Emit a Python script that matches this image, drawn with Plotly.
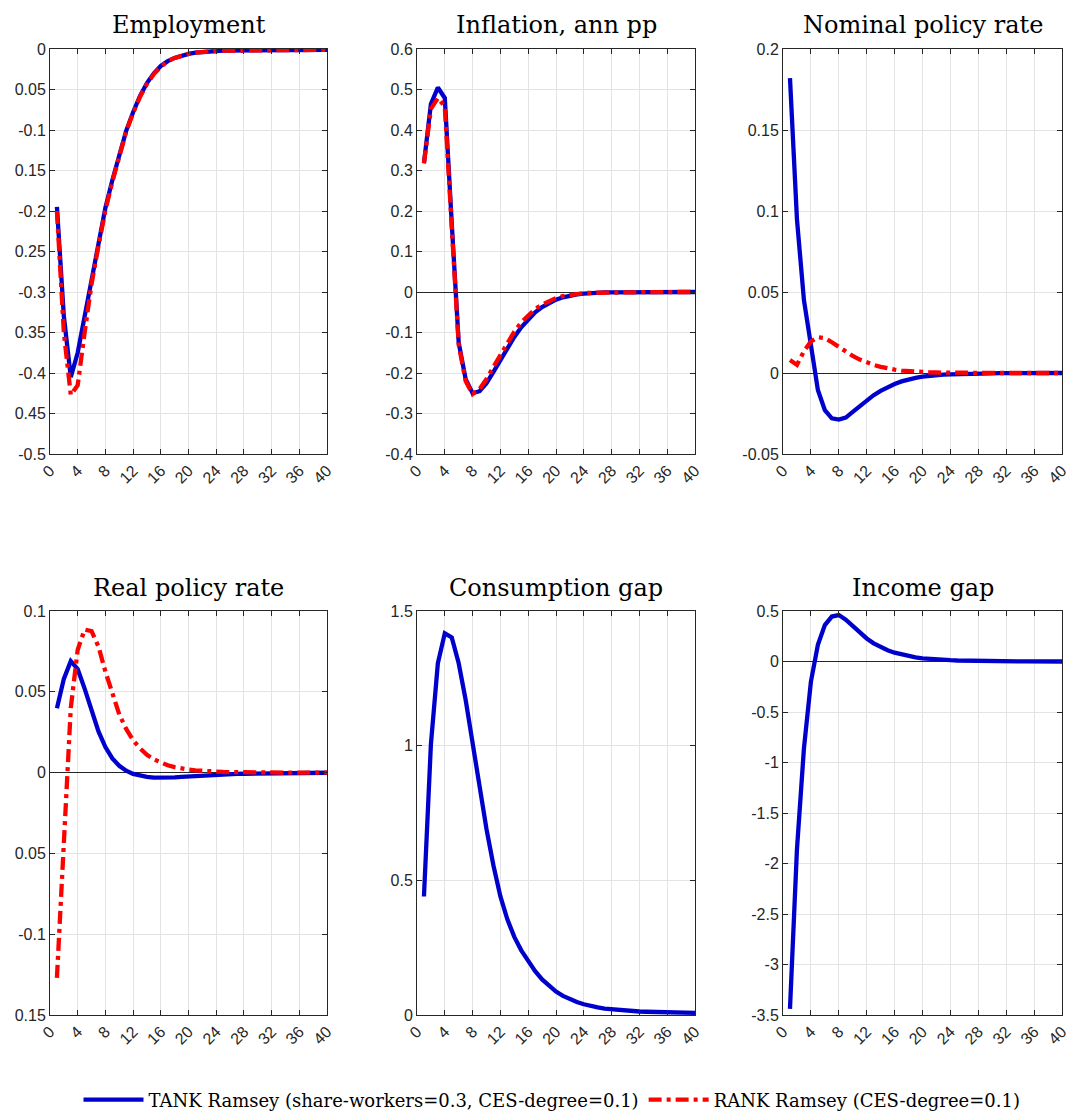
import plotly.graph_objects as go

# ---------------- data ----------------
periods = list(range(1, 41))

titles = ["Employment", "Inflation, ann pp", "Nominal policy rate",
          "Real policy rate", "Consumption gap", "Income gap"]

name_tank = "TANK Ramsey (share-workers=0.3, CES-degree=0.1)"
name_rank = "RANK Ramsey (CES-degree=0.1)"

emp_tank = [-0.195, -0.33, -0.405, -0.375, -0.33, -0.285, -0.238, -0.196, -0.162, -0.13,
            -0.101, -0.078, -0.058, -0.042, -0.030, -0.021, -0.015, -0.011, -0.008, -0.006,
            -0.0045, -0.0035, -0.003, -0.0025, -0.002, -0.002, -0.0018, -0.0016, -0.0015, -0.0014,
            -0.0013, -0.0012, -0.0012, -0.0011, -0.0011, -0.001, -0.001, -0.001, -0.001, -0.001]
emp_rank = [-0.20, -0.35, -0.427, -0.415, -0.35, -0.29, -0.243, -0.199, -0.164, -0.131,
            -0.102, -0.079, -0.059, -0.043, -0.031, -0.022, -0.015, -0.011, -0.008, -0.006,
            -0.0045, -0.0035, -0.003, -0.0025, -0.002, -0.002, -0.0018, -0.0016, -0.0015, -0.0014,
            -0.0013, -0.0012, -0.0012, -0.0011, -0.0011, -0.001, -0.001, -0.001, -0.001, -0.001]

infl_tank = [0.318, 0.464, 0.505, 0.479, 0.17, -0.125, -0.215, -0.25, -0.245, -0.225,
             -0.197, -0.168, -0.139, -0.111, -0.087, -0.067, -0.050, -0.037, -0.027, -0.019,
             -0.013, -0.009, -0.006, -0.004, -0.0025, -0.0016, -0.001, -0.0008, -0.0006, -0.0005,
             -0.0004, -0.0003, -0.0002, -0.0002, -0.0001, -0.0001, 0.0, 0.0, 0.0, 0.0]
infl_rank = [0.318, 0.452, 0.479, 0.458, 0.16, -0.13, -0.22, -0.252, -0.24, -0.215,
             -0.185, -0.155, -0.125, -0.098, -0.075, -0.057, -0.042, -0.031, -0.022, -0.015,
             -0.010, -0.007, -0.005, -0.003, -0.002, -0.0015, -0.001, -0.0008, -0.0006, -0.0005,
             -0.0004, -0.0003, -0.0002, -0.0002, -0.0001, -0.0001, 0.0, 0.0, 0.0, 0.0]

nom_tank = [0.182, 0.095, 0.045, 0.015, -0.0105, -0.023, -0.028, -0.0288, -0.0275, -0.024,
            -0.0203, -0.0168, -0.0137, -0.011, -0.0087, -0.0068, -0.0052, -0.004, -0.003, -0.0023,
            -0.0017, -0.0013, -0.001, -0.0008, -0.0006, -0.0005, -0.0004, -0.0003, -0.0002, -0.0002,
            -0.0001, -0.0001, -0.0001, 0.0, 0.0, 0.0, 0.0, 0.0, 0.0, 0.0]
nom_rank = [0.008, 0.005, 0.0135, 0.0195, 0.022, 0.0215, 0.019, 0.016, 0.013, 0.0105,
            0.0083, 0.0065, 0.005, 0.0038, 0.0028, 0.0021, 0.0015, 0.0011, 0.0008, 0.0006,
            0.0004, 0.0003, 0.0002, 0.0002, 0.0001, 0.0001, 0.0001, 0.0, 0.0, 0.0,
            0.0, 0.0, 0.0, 0.0, 0.0, 0.0, 0.0, 0.0, 0.0, 0.0]

real_tank = [0.0398, 0.058, 0.069, 0.064, 0.052, 0.038, 0.0255, 0.0158, 0.0088, 0.0042,
             0.0012, -0.0008, -0.002, -0.0027, -0.0031, -0.0032, -0.0031, -0.0029, -0.0027, -0.0024,
             -0.0021, -0.0018, -0.0016, -0.0013, -0.0011, -0.0009, -0.0008, -0.0007, -0.0006, -0.0005,
             -0.0004, -0.0003, -0.0003, -0.0002, -0.0002, -0.0002, -0.0001, -0.0001, -0.0001, -0.0001]
real_rank = [-0.127, -0.04, 0.04, 0.076, 0.0885, 0.0875, 0.078, 0.0625, 0.049, 0.036,
             0.027, 0.02, 0.015, 0.011, 0.0082, 0.006, 0.0045, 0.0034, 0.0025, 0.0019,
             0.0014, 0.001, 0.0008, 0.0006, 0.0004, 0.0003, 0.0002, 0.0002, 0.0001, 0.0001,
             0.0001, 0.0, 0.0, 0.0, 0.0, 0.0, 0.0, 0.0, 0.0, 0.0]

cons_tank = [0.44, 1.005, 1.306, 1.417, 1.402, 1.306, 1.17, 1.01, 0.845, 0.69,
             0.555, 0.44, 0.355, 0.29, 0.24, 0.2, 0.163, 0.132, 0.107, 0.087,
             0.071, 0.058, 0.048, 0.04, 0.033, 0.028, 0.024, 0.021, 0.018, 0.016,
             0.014, 0.013, 0.012, 0.011, 0.010, 0.0095, 0.009, 0.0085, 0.008, 0.008]

inc_tank = [-3.44, -1.86, -0.86, -0.2, 0.165, 0.36, 0.445, 0.46, 0.415, 0.35,
            0.285, 0.228, 0.18, 0.142, 0.111, 0.087, 0.068, 0.053, 0.041, 0.032,
            0.025, 0.02, 0.016, 0.013, 0.01, 0.008, 0.006, 0.005, 0.004, 0.003,
            0.002, 0.002, 0.001, 0.001, 0.001, 0.0, 0.0, 0.0, 0.0, 0.0]

# tick labels as printed in the figure
x_ticks = list(range(0, 41, 4))
emp_yvals = [-0.5, -0.45, -0.4, -0.35, -0.3, -0.25, -0.2, -0.15, -0.1, -0.05, 0]
emp_ytext = ["-0.5", "0.45", "-0.4", "0.35", "-0.3", "0.25", "-0.2", "0.15", "-0.1", "0.05", "0"]
infl_yvals = [-0.4, -0.3, -0.2, -0.1, 0, 0.1, 0.2, 0.3, 0.4, 0.5, 0.6]
infl_ytext = ["-0.4", "-0.3", "-0.2", "-0.1", "0", "0.1", "0.2", "0.3", "0.4", "0.5", "0.6"]
nom_yvals = [-0.05, 0, 0.05, 0.1, 0.15, 0.2]
nom_ytext = ["-0.05", "0", "0.05", "0.1", "0.15", "0.2"]
real_yvals = [-0.15, -0.1, -0.05, 0, 0.05, 0.1]
real_ytext = ["0.15", "-0.1", "0.05", "0", "0.05", "0.1"]
cons_yvals = [0, 0.5, 1, 1.5]
cons_ytext = ["0", "0.5", "1", "1.5"]
inc_yvals = [-3.5, -3, -2.5, -2, -1.5, -1, -0.5, 0, 0.5]
inc_ytext = ["-3.5", "-3", "-2.5", "-2", "-1.5", "-1", "-0.5", "0", "0.5"]

# ---------------- figure ----------------
BLUE = "#0000CC"
RED = "#FF0000"
AX = "#262626"
GRID = "#e3e3e3"

panels = [
    (emp_tank, emp_rank, [-0.5, 0], emp_yvals, emp_ytext),
    (infl_tank, infl_rank, [-0.4, 0.6], infl_yvals, infl_ytext),
    (nom_tank, nom_rank, [-0.05, 0.2], nom_yvals, nom_ytext),
    (real_tank, real_rank, [-0.15, 0.1], real_yvals, real_ytext),
    (cons_tank, None, [0, 1.5], cons_yvals, cons_ytext),
    (inc_tank, None, [-3.5, 0.5], inc_yvals, inc_ytext),
]

OFF = 8                      # page body margin of the browser
W, H = 1074 - OFF, 1111 - OFF
xdom_px = [(50, 327), (417, 695), (783, 1062)]   # screen pixels
ydom_px = [(49, 454), (611, 1015)]
title_y_px = [25, 588]


def px_x(v):
    return (v - OFF) / W


def px_y(v):
    return 1 - (v - OFF) / H


fig = go.Figure()
layout = dict(
    width=W, height=H,
    margin=dict(l=0, r=0, t=0, b=0, autoexpand=False),
    paper_bgcolor="white", plot_bgcolor="white",
    showlegend=True,
    legend=dict(orientation="h", x=px_x(552), xanchor="center", y=px_y(1100), yanchor="middle",
                font=dict(family="DejaVu Serif", size=18, color="black"),
                bgcolor="rgba(0,0,0,0)", itemwidth=60, tracegroupgap=0),
    annotations=[],
)

tickfont = dict(family="Liberation Sans, Arial, sans-serif", size=16, color=AX)

for i, (tank, rank, yr, yv, yt) in enumerate(panels):
    r, c = divmod(i, 3)
    n = i + 1
    xa = "x" if n == 1 else f"x{n}"
    ya = "y" if n == 1 else f"y{n}"
    x0, x1 = xdom_px[c]
    y0, y1 = ydom_px[r]
    layout["xaxis" if n == 1 else f"xaxis{n}"] = dict(
        domain=[px_x(x0), px_x(x1)], anchor=ya, range=[0, 40], automargin=False,
        tickvals=x_ticks, ticktext=[str(v) for v in x_ticks], tickangle=-45,
        ticks="inside", ticklen=5, tickcolor=AX, tickfont=tickfont,
        showline=True, linecolor=AX, linewidth=1, mirror="ticks",
        showgrid=True, gridcolor=GRID, gridwidth=1, zeroline=False,
    )
    layout["yaxis" if n == 1 else f"yaxis{n}"] = dict(
        domain=[px_y(y1), px_y(y0)], anchor=xa, range=yr, automargin=False,
        tickvals=yv, ticktext=yt,
        ticks="inside", ticklen=5, tickcolor=AX, tickfont=tickfont,
        showline=True, linecolor=AX, linewidth=1, mirror="ticks",
        showgrid=True, gridcolor=GRID, gridwidth=1,
        zeroline=True, zerolinecolor=AX, zerolinewidth=1,
    )
    fig.add_trace(go.Scatter(x=periods, y=tank, mode="lines", name=name_tank,
                             line=dict(color=BLUE, width=4.3), showlegend=(n == 1),
                             legendgroup="tank", xaxis=xa, yaxis=ya))
    if rank is not None:
        fig.add_trace(go.Scatter(x=periods, y=rank, mode="lines", name=name_rank,
                                 line=dict(color=RED, width=4.3, dash="13px,5px,4px,5px"),
                                 showlegend=(n == 1), legendgroup="rank",
                                 xaxis=xa, yaxis=ya))
    layout["annotations"].append(dict(
        text=titles[i], xref="paper", yref="paper",
        x=px_x((x0 + x1) / 2), y=px_y(title_y_px[r]),
        xanchor="center", yanchor="middle", showarrow=False,
        font=dict(family="DejaVu Serif", size=24, color="black"),
    ))

fig.update_layout(**layout)
fig.write_html("out.html")
